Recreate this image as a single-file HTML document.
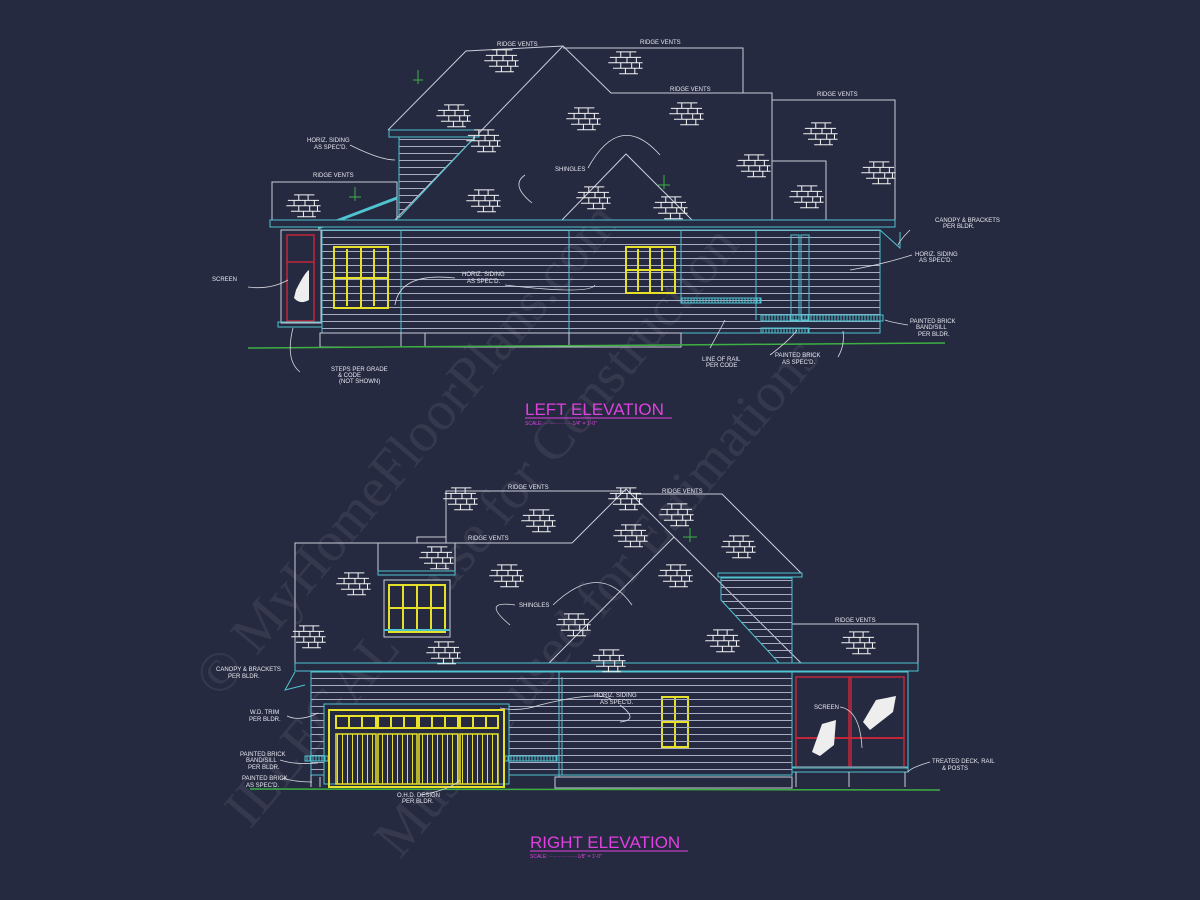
<!DOCTYPE html>
<html><head><meta charset="utf-8"><style>
html,body{margin:0;padding:0;background:#262a40;}
svg{display:block}
text{font-family:"Liberation Sans",sans-serif;fill:#e8e8f0;}
</style></head><body>
<svg width="1200" height="900" viewBox="0 0 1200 900" xmlns="http://www.w3.org/2000/svg">
<defs>
<pattern id="sid" width="10" height="7" patternUnits="userSpaceOnUse"><line x1="0" y1="6.5" x2="10" y2="6.5" stroke="#a8adc4" stroke-width="1"/></pattern>
<pattern id="rail" width="3" height="6" patternUnits="userSpaceOnUse"><line x1="1" y1="0" x2="1" y2="6" stroke="#4fc3d0" stroke-width="1"/></pattern>
<pattern id="gvert" width="5" height="10" patternUnits="userSpaceOnUse"><line x1="2.5" y1="0" x2="2.5" y2="10" stroke="#e6e02a" stroke-width="1"/></pattern>
<g id="brk" stroke="#f2f2f2" stroke-width="1.3" fill="none" transform="scale(0.78)">
<path d="M-14,-13h26M-22,-6h40M-24,1h44M-18,8h38M-10,15h24"/>
<path d="M-8,-13v7M4,-13v7M-14,-6v7M0,-6v7M12,-6v7M-8,1v7M6,1v7M16,1v7M-2,8v7M10,8v7"/>
</g>
</defs>
<rect width="1200" height="900" fill="#262a40"/>

<g opacity="0.07">
<text x="220" y="700" font-size="56" transform="rotate(-50 220 700)" style="fill:#ffffff;font-family:'Liberation Serif',serif">© MyHomeFloorPlans.com</text>
<text x="250" y="830" font-size="56" transform="rotate(-50 250 830)" style="fill:#ffffff;font-family:'Liberation Serif',serif">ILLEGAL to use for Construction</text>
<text x="400" y="860" font-size="56" transform="rotate(-50 400 860)" style="fill:#ffffff;font-family:'Liberation Serif',serif">Must be used for Estimations</text>
</g>

<!-- ================= LEFT ELEVATION ================= -->
<g fill="none" stroke="#c9ccd8" stroke-width="1">
<polyline points="563,48 743,48 743,93"/>
<polyline points="388,130 466,51 563,46 611,93 772,93 772,220"/>
<line x1="393" y1="222" x2="563" y2="46"/>
<polyline points="772,100 895,100 895,220"/>
<polyline points="772,161 826,161 826,220"/>
<polyline points="560,222 626,154 694,222"/>
<polyline points="272,220 272,182 397,182 397,220"/>
</g>
<rect x="389" y="130" width="90" height="7" fill="#262a40" stroke="#4fc3d0"/>
<polygon points="399,137 475,137 399,218" fill="url(#sid)" stroke="#4fc3d0"/>
<line x1="318" y1="228" x2="397" y2="198" stroke="#4fc3d0" stroke-width="3"/>
<rect x="270" y="220" width="625" height="7" fill="#262a40" stroke="#4fc3d0"/>
<rect x="322" y="230" width="558" height="103" fill="url(#sid)" stroke="#4fc3d0"/>
<g stroke="#4fc3d0" fill="none">
<line x1="401" y1="230" x2="401" y2="333"/>
<line x1="569" y1="230" x2="569" y2="333"/>
<line x1="681" y1="230" x2="681" y2="300"/>
<line x1="756" y1="230" x2="756" y2="320"/>
<rect x="791" y="235" width="8" height="85"/>
<rect x="801" y="235" width="8" height="85"/>
</g>
<rect x="681" y="298" width="80" height="5" fill="url(#rail)" stroke="#4fc3d0"/>
<rect x="761" y="315" width="122" height="6" fill="url(#rail)" stroke="#4fc3d0"/>
<rect x="761" y="328" width="48" height="5" fill="url(#rail)" stroke="#4fc3d0"/>
<rect x="320" y="333" width="105" height="14" fill="none" stroke="#c9ccd8"/>
<rect x="569" y="333" width="112" height="14" fill="none" stroke="#c9ccd8"/>
<rect x="401" y="333" width="168" height="14" fill="none" stroke="#c9ccd8"/>
<rect x="281" y="230" width="40" height="93" fill="none" stroke="#c9ccd8"/>
<rect x="287" y="235" width="27" height="86" fill="none" stroke="#c0283a" stroke-width="1.5"/>
<line x1="287" y1="262" x2="314" y2="262" stroke="#c0283a" stroke-width="1.5"/>
<path d="M296,290 Q305,272 309,270 L309,300 Q300,305 294,298Z" fill="#eeeeee"/>
<rect x="278" y="322" width="44" height="5" fill="none" stroke="#4fc3d0"/>
<g fill="none" stroke="#e6e02a" stroke-width="2">
<rect x="334" y="247" width="54" height="61"/><line x1="361" y1="247" x2="361" y2="308"/>
<line x1="347" y1="249" x2="347" y2="306"/><line x1="374" y1="249" x2="374" y2="306"/>
<line x1="334" y1="278" x2="388" y2="278"/>
<rect x="626" y="247" width="49" height="46"/><line x1="650" y1="247" x2="650" y2="293"/>
<line x1="638" y1="249" x2="638" y2="291"/><line x1="662" y1="249" x2="662" y2="291"/>
<line x1="626" y1="270" x2="675" y2="270"/>
</g>
<line x1="248" y1="348" x2="945" y2="343" stroke="#3cb043" stroke-width="1.5"/>
<path d="M880,230 L900,248 L900,232" fill="none" stroke="#4fc3d0"/>
<use href="#brk" x="455" y="115"/><use href="#brk" x="503" y="60"/><use href="#brk" x="627" y="62"/>
<use href="#brk" x="585" y="118"/><use href="#brk" x="688" y="113"/><use href="#brk" x="822" y="133"/>
<use href="#brk" x="755" y="165"/><use href="#brk" x="485" y="200"/><use href="#brk" x="305" y="205"/>
<use href="#brk" x="485" y="140"/><use href="#brk" x="595" y="197"/><use href="#brk" x="672" y="207"/>
<use href="#brk" x="808" y="196"/><use href="#brk" x="880" y="172"/>
<g stroke="#3cb043"><path d="M413,80h10M418,70v14M349,197h12M355,187v14M658,185h12M664,175v14M683,537h14M690,528v14"/></g>
<g fill="none" stroke="#d8d8e0" stroke-width="0.8">
<path d="M350,145 Q380,160 395,160"/>
<path d="M248,287 Q270,290 288,280"/>
<path d="M293,328 Q285,360 300,372"/>
<path d="M525,175 Q510,185 532,203"/>
<path d="M588,168 Q620,110 660,155"/>
<path d="M455,278 Q400,272 395,305"/>
<path d="M505,285 Q590,295 595,285"/>
<path d="M710,348 Q720,330 725,320"/>
<path d="M770,355 Q790,340 797,330"/>
<path d="M838,357 Q845,345 843,331"/>
<path d="M910,230 Q900,240 898,245"/>
<path d="M912,255 Q880,265 850,270"/>
<path d="M908,325 Q890,322 885,320"/>
</g>
<g font-size="6">
<text x="497" y="46">RIDGE VENTS</text><text x="640" y="44">RIDGE VENTS</text>
<text x="670" y="91">RIDGE VENTS</text><text x="817" y="96">RIDGE VENTS</text>
<text x="313" y="177">RIDGE VENTS</text>
<text x="307" y="142">HORIZ. SIDING</text><text x="314" y="149">AS SPEC'D.</text>
<text x="555" y="171">SHINGLES</text>
<text x="212" y="281">SCREEN</text>
<text x="462" y="276">HORIZ. SIDING</text><text x="467" y="283">AS SPEC'D.</text>
<text x="935" y="222">CANOPY &amp; BRACKETS</text><text x="943" y="228">PER BLDR.</text>
<text x="915" y="256">HORIZ. SIDING</text><text x="919" y="262">AS SPEC'D.</text>
<text x="910" y="323">PAINTED BRICK</text><text x="916" y="329">BAND/SILL</text><text x="918" y="336">PER BLDR.</text>
<text x="331" y="371">STEPS PER GRADE</text><text x="338" y="377">&amp; CODE</text><text x="339" y="383">(NOT SHOWN)</text>
<text x="702" y="361">LINE OF RAIL</text><text x="706" y="367">PER CODE</text>
<text x="775" y="357">PAINTED BRICK</text><text x="782" y="364">AS SPEC'D.</text>
</g>
<text x="525" y="415" font-size="17" style="fill:#e040e0">LEFT ELEVATION</text>
<line x1="525" y1="418" x2="672" y2="418" stroke="#e040e0"/>
<text x="525" y="425" font-size="5" style="fill:#e040e0">SCALE: ·················1/4" = 1'-0"</text>

<!-- ================= RIGHT ELEVATION ================= -->
<g fill="none" stroke="#c9ccd8">
<polyline points="446,543 446,491 626,491"/>
<polyline points="633,494 722,494 801,573"/>
<polyline points="572,543 626,489 674,537"/>
<polyline points="295,663 295,543 572,543"/>
<rect x="417" y="537" width="29" height="6"/>
<polyline points="549,663 674,537 801,663"/>
<polyline points="792,663 792,624 918,624 918,663"/>
<rect x="378" y="543" width="77" height="30"/>
</g>
<rect x="378" y="571" width="77" height="4" fill="#262a40" stroke="#4fc3d0"/>
<polygon points="721,578 792,578 792,663 779,663 721,600" fill="url(#sid)" stroke="#4fc3d0"/>
<rect x="718" y="573" width="84" height="4" fill="#262a40" stroke="#4fc3d0"/>
<rect x="384" y="580" width="66" height="57" fill="#262a40" stroke="#c9ccd8"/>
<g fill="none" stroke="#e6e02a" stroke-width="2">
<rect x="389" y="585" width="56" height="47"/><line x1="417" y1="585" x2="417" y2="632"/>
<line x1="403" y1="585" x2="403" y2="632"/><line x1="431" y1="585" x2="431" y2="632"/>
<line x1="389" y1="608" x2="445" y2="608"/>
<rect x="662" y="697" width="26" height="50"/><line x1="675" y1="697" x2="675" y2="747"/><line x1="662" y1="722" x2="688" y2="722"/>
</g>
<line x1="384" y1="630" x2="450" y2="630" stroke="#4fc3d0" stroke-width="2"/>
<rect x="295" y="663" width="623" height="8" fill="#262a40" stroke="#4fc3d0"/>
<rect x="311" y="672" width="481" height="103" fill="url(#sid)" stroke="#4fc3d0"/>
<line x1="559" y1="672" x2="559" y2="777" stroke="#4fc3d0"/>
<line x1="562" y1="677" x2="562" y2="775" stroke="#4fc3d0"/>
<rect x="555" y="777" width="237" height="11" fill="none" stroke="#c9ccd8"/>
<rect x="324" y="704" width="185" height="80" fill="#262a40" stroke="#4fc3d0"/>
<rect x="305" y="756" width="24" height="5" fill="url(#rail)" stroke="#4fc3d0"/>
<rect x="505" y="756" width="52" height="5" fill="url(#rail)" stroke="#4fc3d0"/>
<g stroke="#e6e02a" stroke-width="2" fill="none">
<rect x="329" y="710" width="175" height="77"/>
<rect x="336" y="716" width="40" height="12"/><rect x="378" y="716" width="39" height="12"/><rect x="419" y="716" width="39" height="12"/><rect x="460" y="716" width="38" height="12"/>
<path d="M349,716v12M362,716v12M391,716v12M404,716v12M432,716v12M445,716v12M473,716v12M486,716v12"/>
</g>
<g stroke="#e6e02a" stroke-width="1.5">
<rect x="336" y="734" width="40" height="50" fill="url(#gvert)"/><rect x="378" y="734" width="39" height="50" fill="url(#gvert)"/>
<rect x="419" y="734" width="39" height="50" fill="url(#gvert)"/><rect x="460" y="734" width="38" height="50" fill="url(#gvert)"/>
</g>
<rect x="792" y="672" width="116" height="96" fill="none" stroke="#4fc3d0"/>
<rect x="796" y="677" width="108" height="90" fill="none" stroke="#c0283a" stroke-width="1.5"/>
<line x1="849" y1="677" x2="849" y2="767" stroke="#c0283a" stroke-width="1.5"/>
<line x1="851" y1="677" x2="851" y2="767" stroke="#c0283a" stroke-width="1.5"/>
<line x1="796" y1="738" x2="904" y2="738" stroke="#c0283a" stroke-width="2"/>
<path d="M822,724 L836,720 L834,745 L820,756 L812,752Z" fill="#eeeeee"/>
<path d="M876,700 L896,696 L893,712 L870,730 L863,722Z" fill="#eeeeee"/>
<rect x="792" y="767" width="116" height="5" fill="none" stroke="#4fc3d0"/>
<g stroke="#c9ccd8"><path d="M796,772v15M849,772v15M905,772v15M311,775v12M320,777v10"/></g>
<path d="M295,672 L285,690 L305,685" fill="none" stroke="#4fc3d0"/>
<line x1="250" y1="789" x2="940" y2="790" stroke="#3cb043" stroke-width="1.5"/>
<use href="#brk" x="462" y="498"/><use href="#brk" x="540" y="520"/><use href="#brk" x="632" y="535"/>
<use href="#brk" x="678" y="514"/><use href="#brk" x="438" y="557"/><use href="#brk" x="508" y="575"/>
<use href="#brk" x="355" y="583"/><use href="#brk" x="677" y="575"/><use href="#brk" x="740" y="546"/>
<use href="#brk" x="310" y="636"/><use href="#brk" x="445" y="652"/><use href="#brk" x="724" y="640"/>
<use href="#brk" x="575" y="624"/><use href="#brk" x="860" y="642"/><use href="#brk" x="627" y="498"/>
<use href="#brk" x="610" y="660"/>
<g fill="none" stroke="#d8d8e0" stroke-width="0.8">
<path d="M515,605 Q480,600 510,625"/>
<path d="M553,605 Q600,560 632,605"/>
<path d="M287,716 Q300,722 318,713"/>
<path d="M280,760 Q295,765 318,763"/><path d="M282,778 Q295,782 312,782"/>
<path d="M420,795 Q450,790 460,780"/>
<path d="M612,700 Q600,690 540,705 Q520,712 500,708"/>
<path d="M620,705 Q640,720 620,722"/>
<path d="M840,707 Q860,710 862,748"/>
<path d="M930,762 Q910,768 908,772"/>
</g>
<g font-size="6">
<text x="508" y="489">RIDGE VENTS</text><text x="662" y="493">RIDGE VENTS</text>
<text x="468" y="540">RIDGE VENTS</text><text x="835" y="622">RIDGE VENTS</text>
<text x="519" y="607">SHINGLES</text>
<text x="216" y="671">CANOPY &amp; BRACKETS</text><text x="228" y="678">PER BLDR.</text>
<text x="250" y="714">W.D. TRIM</text><text x="249" y="721">PER BLDR.</text>
<text x="240" y="756">PAINTED BRICK</text><text x="246" y="762">BAND/SILL</text><text x="248" y="769">PER BLDR.</text>
<text x="242" y="780">PAINTED BRICK</text><text x="246" y="787">AS SPEC'D.</text>
<text x="594" y="697">HORIZ. SIDING</text><text x="600" y="704">AS SPEC'D.</text>
<text x="814" y="709">SCREEN</text>
<text x="932" y="763">TREATED DECK, RAIL</text><text x="942" y="770">&amp; POSTS</text>
<text x="397" y="797">O.H.D. DESIGN</text><text x="402" y="803">PER BLDR.</text>
</g>
<text x="530" y="848" font-size="17" style="fill:#e040e0">RIGHT ELEVATION</text>
<line x1="530" y1="851" x2="688" y2="851" stroke="#e040e0"/>
<text x="530" y="858" font-size="5" style="fill:#e040e0">SCALE: ·················1/8" = 1'-0"</text>
</svg>
</body></html>
